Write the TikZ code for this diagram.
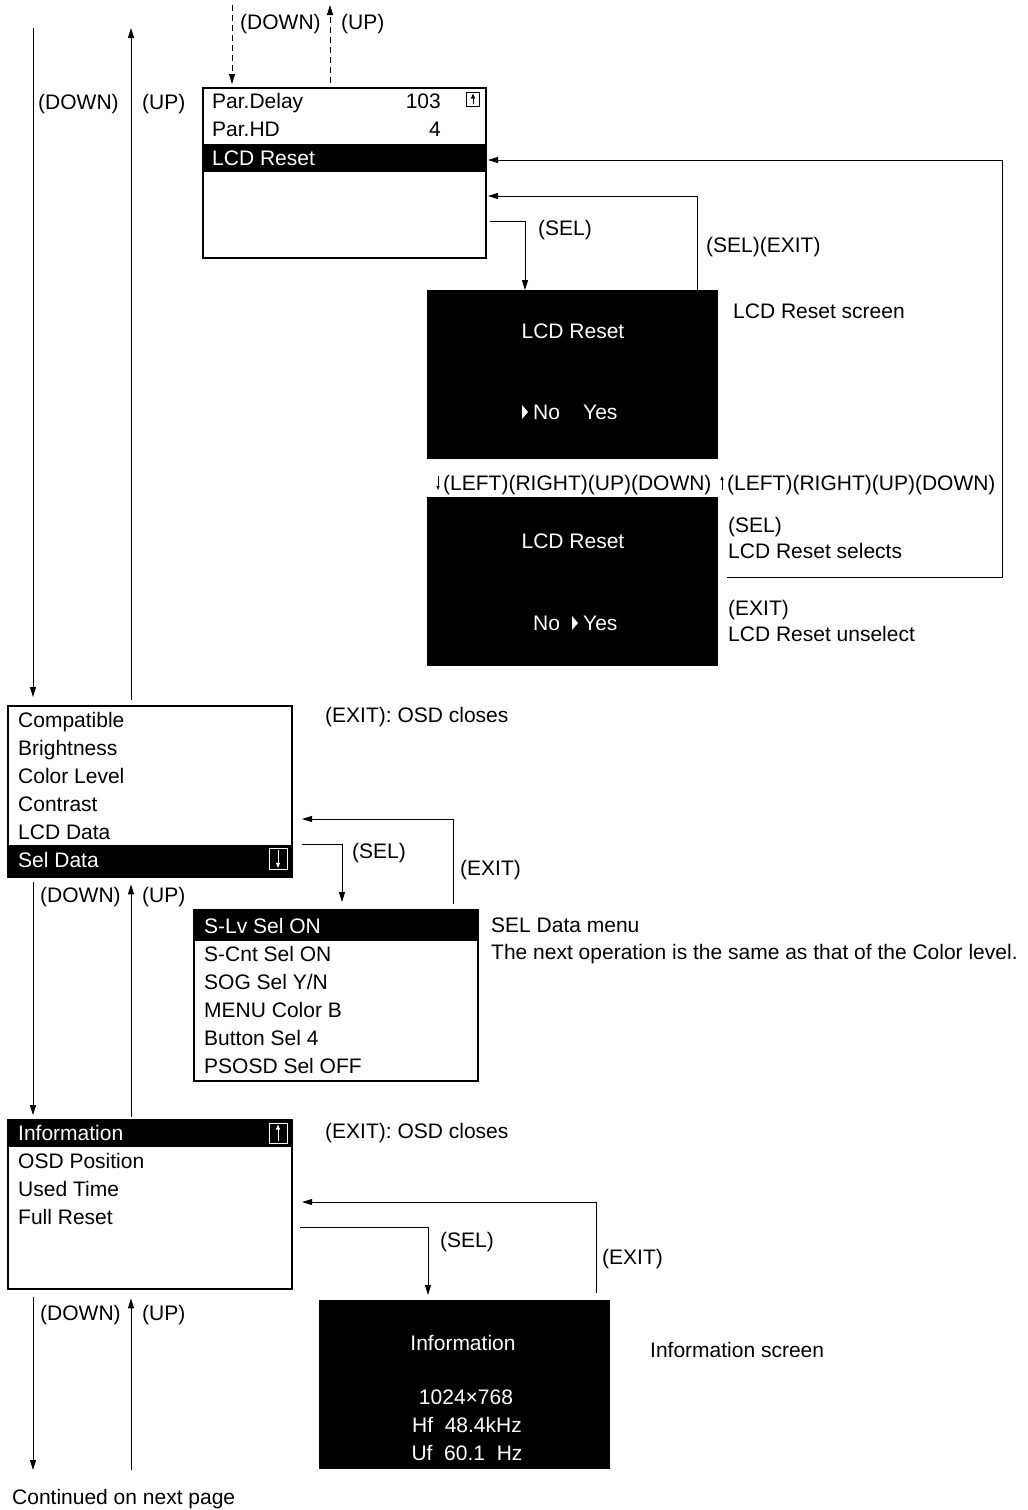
\documentclass[tikz,border=0pt]{standalone}
\usepackage{fontspec}
\setmainfont{Liberation Sans}
\usetikzlibrary{arrows.meta,calc,positioning}

% small scroll icon: name, position, colour, width, height, from anchor, to anchor
\newcommand{\scrollmark}[7]{%
  \node[draw=#3, line width=0.9pt, minimum width=#4, minimum height=#5, inner sep=0pt] (#1) at (#2) {};
  \draw[#3, line width=0.9pt, -{Triangle[length=5pt,width=4pt]}, shorten <=2pt, shorten >=2pt] (#1.#6) -- (#1.#7);
}

\begin{document}
\begin{tikzpicture}[x=1pt, y=-1pt,
  every node/.style={font=\fontsize{21}{25}\selectfont},
  menu/.style={draw, line width=2.4pt, inner sep=0pt, anchor=north west},
  screen/.style={fill=black, inner sep=0pt, minimum width=291pt, minimum height=169pt, anchor=north west},
  item/.style={anchor=west, inner sep=0pt, text height=15pt, text depth=0pt},
  hitem/.style={item, text=white},
  scrtext/.style={inner sep=0pt, text height=15pt, text depth=0pt, text=white},
  conn/.style={line width=0.9pt, -{Triangle[length=10pt,width=6pt]}},
  tinyarr/.style={line width=0.7pt, -{Triangle[length=4pt,width=3pt]}}]
\useasboundingbox (0,0) rectangle (1028,1510);

% Par menu
\node[menu, minimum width=283pt, minimum height=170pt] (parmenu) at (202,87) {};
\fill (202,144) rectangle (485,172);
\node[item] (pdelay) at (212,101) {Par.Delay};
\node[item, anchor=east] (pdelayv) at (441,101) {103};
\node[item] (phd) at (212,129) {Par.HD};
\node[item, anchor=east] (phdv) at (441,129) {4};
\node[hitem] (plcd) at (212,158) {LCD Reset};
\scrollmark{parup}{473,99}{black}{13pt}{14pt}{south}{north}

% LCD Reset screens
\node[screen] (resetA) at (427,290) {};
\node[scrtext] (resetAt) at (573,331) {LCD Reset};
\node[scrtext, anchor=west] (resetAno) at (533,412) {No};
\node[scrtext, anchor=west] (resetAyes) at (583,412) {Yes};
\fill[white] ($(resetAno.west)+(-11,-7)$) -- ($(resetAno.west)+(-5,0)$) -- ($(resetAno.west)+(-11,7)$) -- cycle;

\node[screen] (resetB) at (427,497) {};
\node[scrtext] (resetBt) at (573,541) {LCD Reset};
\node[scrtext, anchor=west] (resetBno) at (533,623) {No};
\node[scrtext, anchor=west] (resetByes) at (583,623) {Yes};
\fill[white] ($(resetByes.west)+(-11,-7)$) -- ($(resetByes.west)+(-5,0)$) -- ($(resetByes.west)+(-11,7)$) -- cycle;

\node[item] (lr1) at (443,483) {(LEFT)(RIGHT)(UP)(DOWN)};
\node[item] (lr2) at (727,483) {(LEFT)(RIGHT)(UP)(DOWN)};
\draw[tinyarr] ([xshift=-5pt,yshift=7pt]lr1.west) -- ([xshift=-5pt,yshift=-7pt]lr1.west);
\draw[tinyarr] ([xshift=-5pt,yshift=-7pt]lr2.west) -- ([xshift=-5pt,yshift=7pt]lr2.west);

% main menu
\node[menu, minimum width=284pt, minimum height=171pt] (mainmenu) at (7,705) {};
\fill (7,845) rectangle (291,876);
\foreach \y/\t [count=\i] in {720/Compatible, 748/Brightness, 776/{Color Level}, 804/Contrast, 832/{LCD Data}}
  \node[item] (main\i) at (18,\y) {\t};
\node[hitem] (main6) at (18,860) {Sel Data};
\scrollmark{maindn}{278,859}{white}{18pt}{21pt}{north}{south}

% Sel Data menu
\node[menu, minimum width=284pt, minimum height=171pt] (selmenu) at (193,909) {};
\fill (193,909) rectangle (477,941);
\node[hitem] (sel1) at (204,926) {S-Lv Sel ON};
\foreach \y/\t [count=\i from 2] in {954/{S-Cnt Sel ON}, 982/{SOG Sel Y/N}, 1010/{MENU Color B}, 1038/{Button Sel 4}, 1066/{PSOSD Sel OFF}}
  \node[item] (sel\i) at (204,\y) {\t};

% Information menu
\node[menu, minimum width=284pt, minimum height=169pt] (infomenu) at (7,1119) {};
\fill (7,1119) rectangle (291,1147);
\node[hitem] (info1) at (18,1133) {Information};
\scrollmark{infoup}{278,1133}{white}{18pt}{20pt}{south}{north}
\foreach \y/\t [count=\i from 2] in {1161/{OSD Position}, 1189/{Used Time}, 1217/{Full Reset}}
  \node[item] (info\i) at (18,\y) {\t};

% Information screen
\node[screen] (infoscr) at (319,1300) {};
\node[scrtext] (infot) at (463,1343) {Information};
\node[scrtext] (infores) at (466,1397) {1024×768};
\node[scrtext] (infohf) at (467,1425) {Hf\ \ 48.4kHz};
\node[scrtext] (infouf) at (467,1453) {Uf\ \ 60.1\ \ Hz};

% notes
\node[item] (tdown) at (240,22) {(DOWN)};
\node[item] (tup) at (341,22) {(UP)};
\node[item] (l1down) at (38,102) {(DOWN)};
\node[item] (l1up) at (142,102) {(UP)};
\node[item] (sel1l) at (538,228) {(SEL)};
\node[item] (selexl) at (706,245) {(SEL)(EXIT)};
\node[item] (scrnote) at (733,311) {LCD Reset screen};
\node[item] (selnote) at (728,525) {(SEL)};
\node[item] (selnote2) at (728,551) {LCD Reset selects};
\node[item] (exnote) at (728,608) {(EXIT)};
\node[item] (exnote2) at (728,634) {LCD Reset unselect};
\node[item] (close1) at (325,715) {(EXIT): OSD closes};
\node[item] (sel2l) at (352,851) {(SEL)};
\node[item] (ex2l) at (460,868) {(EXIT)};
\node[item] (l2down) at (40,895) {(DOWN)};
\node[item] (l2up) at (142,895) {(UP)};
\node[item] (selmnote) at (491,925) {SEL Data menu};
\node[item] (selmnote2) at (491,952) {The next operation is the same as that of the Color level.};
\node[item] (close2) at (325,1131) {(EXIT): OSD closes};
\node[item] (sel3l) at (440,1240) {(SEL)};
\node[item] (ex3l) at (602,1257) {(EXIT)};
\node[item] (l3down) at (40,1313) {(DOWN)};
\node[item] (l3up) at (142,1313) {(UP)};
\node[item] (infonote) at (650,1350) {Information screen};
\node[item] (contd) at (12,1497) {Continued on next page};

% connectors
\coordinate (indn) at (232,5);
\coordinate (outup) at (330,5);
\coordinate (ltop) at (33,28);
\coordinate (utop) at (131,28);
\coordinate (lbot) at (33,1470);
\coordinate (ubot) at (131,1470);
\coordinate (lcdin) at (488,160);
\coordinate (exitin) at (488,196);
\coordinate (selout) at (490,221);
\coordinate (selret) at (727,577);
\coordinate (selcorner) at (1002,577);
\coordinate (exit2in) at (302,819);
\coordinate (sel2out) at (302,844);
\coordinate (exit3in) at (302,1202);
\coordinate (sel3out) at (300,1227);

\draw[conn, dash pattern=on 6pt off 4pt, shorten >=3pt] (indn) -- (indn |- parmenu.north);
\draw[conn, dash pattern=on 6pt off 4pt, shorten <=4pt] (outup |- parmenu.north) -- (outup);

\draw[conn, shorten >=8pt] (ltop) -- (ltop |- mainmenu.north);
\draw[conn, shorten <=5pt] (utop |- mainmenu.north) -- (utop);
\draw[conn, shorten <=4pt, shorten >=4pt] (ltop |- mainmenu.south) -- (ltop |- infomenu.north);
\draw[conn, shorten <=2pt, shorten >=6pt] (utop |- infomenu.north) -- (utop |- mainmenu.south);
\draw[conn, shorten <=7pt] (ltop |- infomenu.south) -- (lbot);
\draw[conn, shorten >=8pt] (ubot) -- (utop |- infomenu.south);

\draw[conn] (selout) -| ([xshift=98pt]resetA.north west);
\draw[conn] ([xshift=270pt]resetA.north west) |- (exitin);
\draw[conn] (selret) -- (selcorner) |- (lcdin);

\draw[conn] (sel2out) -| ([xshift=149pt,yshift=7pt]selmenu.north west);
\draw[conn] ([xshift=260pt,yshift=5pt]selmenu.north west) |- (exit2in);

\draw[conn] (sel3out) -| ([xshift=109pt,yshift=5pt]infoscr.north west);
\draw[conn] ([xshift=277pt,yshift=7pt]infoscr.north west) |- (exit3in);
\end{tikzpicture}
\end{document}
